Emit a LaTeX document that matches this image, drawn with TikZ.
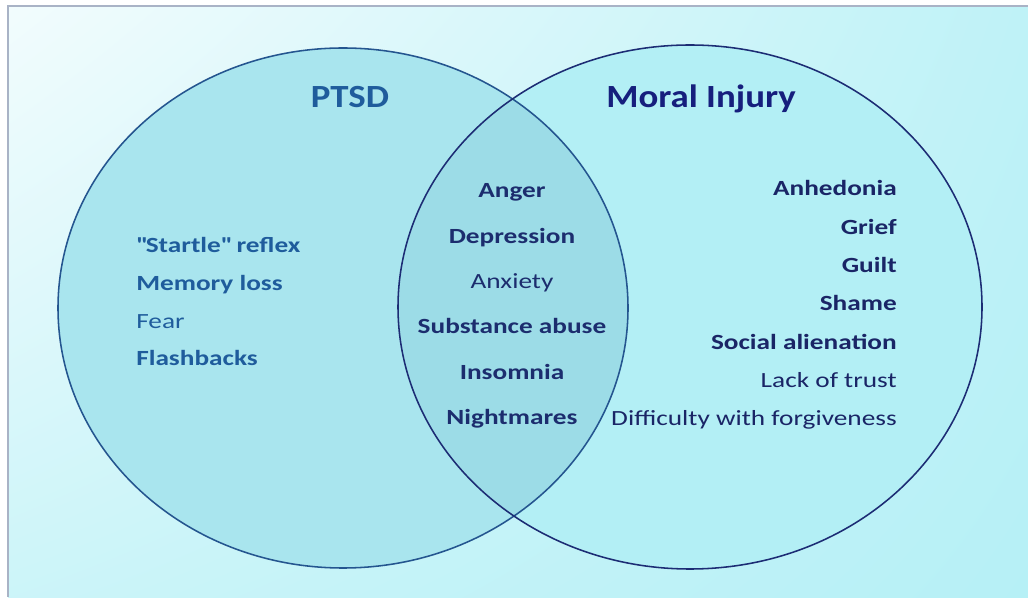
\documentclass[tikz,border=0pt]{standalone}
\usepackage{fontspec}
\setmainfont{Carlito}
\newfontfamily\itemfont{Carlito}[FakeStretch=1.26]
\newfontfamily\titlefont{Carlito}[FakeStretch=1.14]
\usepackage{tikz}
\usetikzlibrary{positioning,shadings}
\definecolor{pagecyan}{HTML}{B6F0F6}
\definecolor{pagelight}{HTML}{F2FCFD}
\definecolor{framegray}{HTML}{A9B3C6}
\definecolor{ptsdfill}{HTML}{A9E5EE}
\definecolor{moralfill}{HTML}{B3EFF5}
\definecolor{bothfill}{HTML}{9CDCE7}
\definecolor{ptsdline}{HTML}{24558F}
\definecolor{moralline}{HTML}{1C2C74}
\definecolor{ptsdtext}{HTML}{1F5C9C}
\definecolor{bothtext}{HTML}{1C2D6E}
\definecolor{moraltext}{HTML}{1A2566}
\tikzset{
  settitle/.style={font=\titlefont\fontsize{23}{27}\selectfont\bfseries, inner sep=0pt, anchor=mid},
  ptsditem/.style={font=\itemfont\fontsize{15.4}{18}\selectfont, text=ptsdtext, inner sep=0pt, anchor=mid west},
  bothitem/.style={font=\itemfont\fontsize{15.4}{18}\selectfont, text=bothtext, inner sep=0pt, anchor=mid},
  moralitem/.style={font=\itemfont\fontsize{15.4}{18}\selectfont, text=moraltext, inner sep=0pt, anchor=mid east},
  heavy/.style={font=\itemfont\fontsize{15.4}{18}\selectfont\bfseries},
  setline/.style={line width=1.1pt}
}

\begin{document}
\begin{tikzpicture}
  \useasboundingbox (0,0) rectangle (25.7,14.925);
  \fill[white] (0,0) rectangle (25.7,14.925);
  \shade[upper left=pagelight, upper right=pagecyan!88, lower left=pagecyan!70, lower right=pagecyan] (0.2,0) rectangle (25.7,14.775);
  \draw[framegray, line width=1.4pt] (0.2,0) -- (0.2,14.775) -- (25.7,14.775);

  \coordinate (ptsdc) at (8.575,7.225);
  \coordinate (moralc) at (17.25,7.25);

  \fill[ptsdfill] (ptsdc) ellipse[x radius=7.125, y radius=6.5];
  \fill[moralfill] (moralc) ellipse[x radius=7.3, y radius=6.55];
  \begin{scope}
    \clip (ptsdc) ellipse[x radius=7.125, y radius=6.5];
    \fill[bothfill] (moralc) ellipse[x radius=7.3, y radius=6.55];
  \end{scope}
  \draw[setline, ptsdline] (ptsdc) ellipse[x radius=7.125, y radius=6.5];
  \draw[setline, moralline] (moralc) ellipse[x radius=7.3, y radius=6.55];

  \node[settitle, text=ptsdtext] (ptsd) at (8.75,12.33) {PTSD};
  \node[settitle, text=moraltext!85!blue] (moral) at (17.525,12.33) {Moral Injury};

  \node[ptsditem, heavy] (startle) at (3.4,8.7) {\textquotedbl Startle\textquotedbl\ reflex};
  \node[ptsditem, heavy] (memory) at (3.4,7.75) {Memory loss};
  \node[ptsditem] (fear) at (3.4,6.8) {Fear};
  \node[ptsditem, heavy] (flash) at (3.4,5.875) {Flashbacks};

  \node[bothitem, heavy] (anger) at (12.8,10.075) {Anger};
  \node[bothitem, heavy] (depression) at (12.8,8.925) {Depression};
  \node[bothitem] (anxiety) at (12.8,7.8) {Anxiety};
  \node[bothitem, heavy] (substance) at (12.8,6.675) {Substance abuse};
  \node[bothitem, heavy] (insomnia) at (12.8,5.525) {Insomnia};
  \node[bothitem, heavy] (nightmares) at (12.8,4.4) {Nightmares};

  \node[moralitem, heavy] (anhedonia) at (22.425,10.125) {Anhedonia};
  \node[moralitem, heavy] (grief) at (22.425,9.15) {Grief};
  \node[moralitem, heavy] (guilt) at (22.425,8.2) {Guilt};
  \node[moralitem, heavy] (shame) at (22.425,7.25) {Shame};
  \node[moralitem, heavy] (alienation) at (22.425,6.275) {Social alienation};
  \node[moralitem] (trust) at (22.425,5.325) {Lack of trust};
  \node[moralitem] (forgiveness) at (22.425,4.375) {Difficulty with forgiveness};
\end{tikzpicture}
\end{document}
